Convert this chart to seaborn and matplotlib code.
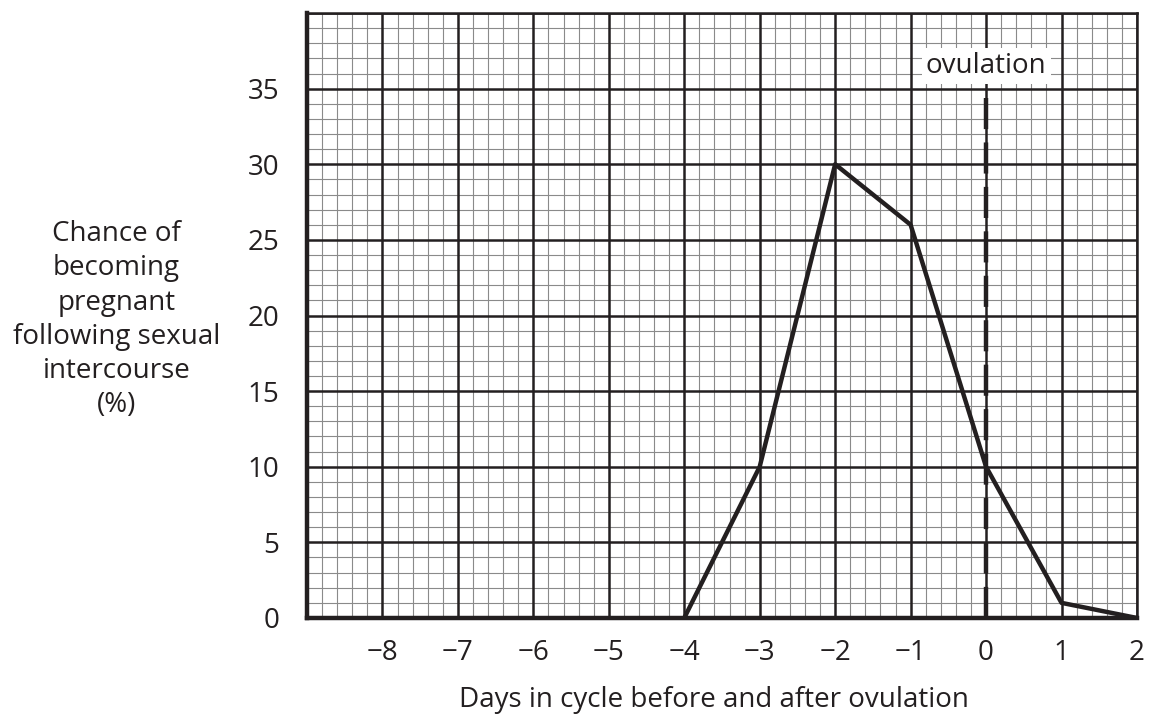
import numpy as np
import pandas as pd
import matplotlib
matplotlib.use('Agg')
import matplotlib.pyplot as plt
from matplotlib.ticker import MultipleLocator
import seaborn as sns

# Data
days = [-4, -3, -2, -1, 0, 1, 2]
chance = [0, 10, 30, 26, 10, 1, 0]
x_ticks = [-8, -7, -6, -5, -4, -3, -2, -1, 0, 1, 2]
y_ticks = [0, 5, 10, 15, 20, 25, 30, 35]

df = pd.DataFrame({'Day': days, 'Chance': chance})

sns.set_style('white')
plt.rcParams['font.family'] = ['Open Sans', 'DejaVu Sans']
ink = '#231f20'
fs = 20

fig = plt.figure(figsize=(11.51, 7.2), dpi=100)
ax = fig.add_axes([0.2667, 0.1417, 0.7211, 0.8402])

# graph paper grid
ax.set_xlim(-9, 2)
ax.set_ylim(0, 40)
ax.xaxis.set_minor_locator(MultipleLocator(0.2))
ax.yaxis.set_minor_locator(MultipleLocator(1))
ax.set_xticks(x_ticks)
ax.set_yticks(y_ticks)
ax.grid(which='minor', color='#8a8a8a', linewidth=0.8)
for xv in range(-9, 3):
    ax.axvline(xv, color=ink, linewidth=1.8, zorder=1)
for yv in range(0, 41, 5):
    ax.axhline(yv, color=ink, linewidth=1.8, zorder=1)
ax.set_axisbelow(True)

# data
sns.lineplot(data=df, x='Day', y='Chance', color=ink, linewidth=3.2, ax=ax, zorder=5)
ax.plot([0, 0], [0, 35], color=ink, linewidth=3.2, linestyle=(0, (7, 3)), zorder=4)
ax.text(0, 36.5, 'ovulation', ha='center', va='center', fontsize=fs, color=ink, zorder=6,
        bbox=dict(facecolor='white', edgecolor='none', pad=3))

# axes styling
for side in ['top', 'right']:
    ax.spines[side].set_color(ink)
    ax.spines[side].set_linewidth(1.8)
for side in ['left', 'bottom']:
    ax.spines[side].set_color(ink)
    ax.spines[side].set_linewidth(3.2)
    ax.spines[side].set_zorder(7)
ax.tick_params(which='major', length=11, width=1.8, color=ink, labelsize=fs, labelcolor=ink)
ax.tick_params(axis='y', pad=9)
ax.tick_params(axis='x', pad=4)
ax.tick_params(which='minor', length=0)
ax.set_xticklabels(['\u2212' + str(-v) if v < 0 else str(v) for v in x_ticks])
ax.set_yticklabels([str(v) for v in y_ticks])

ax.set_xlabel('Days in cycle before and after ovulation', fontsize=fs, color=ink)
ax.xaxis.set_label_coords(0.49, -0.112)
ax.set_ylabel('')
fig.text(0.101, 0.556, 'Chance of\nbecoming\npregnant\nfollowing sexual\nintercourse\n(%)',
         ha='center', va='center', fontsize=fs, color=ink, linespacing=1.3)

fig.savefig('out.png', dpi=100)
